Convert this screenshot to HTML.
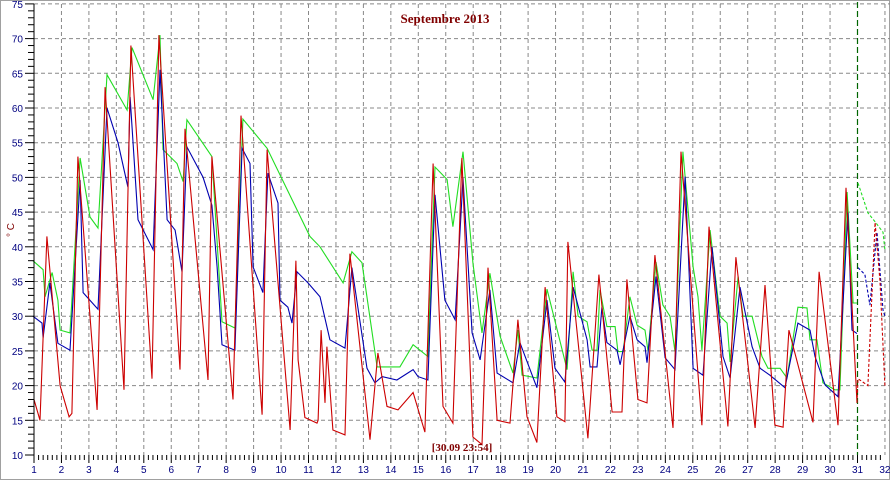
<!DOCTYPE html>
<html><head><meta charset="utf-8"><style>
html,body{margin:0;padding:0;background:#fff;}
svg{display:block;font-family:"Liberation Sans",sans-serif;}
</style></head><body>
<svg id="chart" width="890" height="480" viewBox="0 0 890 480" xmlns="http://www.w3.org/2000/svg">
<rect x="0.5" y="0.5" width="889" height="479" fill="#fff" stroke="#a0a0a0"/>
<g id="grid"></g>
<g id="series"></g>
<g id="axes"></g>
<text x="445" y="23" text-anchor="middle" font-family="Liberation Serif, serif" font-weight="bold" font-size="13" fill="#800000">Septembre 2013</text>
<text x="14" y="230" text-anchor="middle" font-size="10" fill="#800000" transform="rotate(-90 14 230)">° C</text>
<text x="462" y="451" text-anchor="middle" font-family="Liberation Serif, serif" font-weight="bold" font-size="11" fill="#800000">[30.09 23:54]</text>
</svg>
<script>
const yTicks=[10,15,20,25,30,35,40,45,50,55,60,65,70,75];
const xTicks=[1,2,3,4,5,6,7,8,9,10,11,12,13,14,15,16,17,18,19,20,21,22,23,24,25,26,27,28,29,30,31,32];
const redT=[1,1.22,1.47,1.95,2.28,2.38,2.6,3.3,3.59,4.28,4.53,5.3,5.55,6.32,6.5,7.34,7.48,8.25,8.54,9.31,9.49,10.33,10.54,10.62,10.87,11.31,11.35,11.46,11.6,11.67,11.89,12.33,12.51,13.24,13.53,13.86,14.26,14.81,15.24,15.54,15.9,16.26,16.59,16.99,17.32,17.54,17.87,18.34,18.63,18.96,19.32,19.62,20.05,20.34,20.45,21.18,21.58,22.06,22.42,22.6,23,23.33,23.62,24.28,24.57,25.33,25.59,26.28,26.57,27.27,27.63,27.99,28.29,28.5,29.38,29.6,30.29,30.58,30.98];
const redV=[18,15,41.5,20,15.5,16,53,16.5,63,19.4,69,21,70.5,22.3,57,20.8,53,18,58.9,15.8,54,13.6,38,23.7,15.4,14.6,15,28,17.5,25.6,13.6,12.9,39,12.2,24.7,17,16.5,19,13.3,52,17,14.6,52.8,12.6,11.5,37,15,14.6,29.5,15.5,11.8,34.2,15.5,14.8,40.7,12.4,36,16.2,16.2,35.3,18,17.5,38.8,13.9,53.7,14.3,42.9,14.1,38.5,13.9,34.5,14.3,14,28,14.7,36.4,14.3,48.5,17.5];
const redFT=[30.98,31.02,31.38,31.64,31.82,32];
const redFV=[17.5,21,20,43.5,35,20];
const greenT=[0.96,1.33,1.4,1.66,1.87,1.95,2.31,2.68,3.04,3.33,3.66,4.39,4.57,5.34,5.59,5.7,6.21,6.43,6.57,7.48,7.85,8.32,8.61,9.49,11.05,11.42,12.26,12.58,12.95,13.5,14.33,14.81,15.35,15.61,16.05,16.26,16.63,16.99,17.32,17.61,17.98,18.45,18.63,18.78,19.32,19.69,20.42,20.64,20.82,21.15,21.33,21.51,21.62,21.87,22.17,22.27,22.46,22.71,22.97,23.26,23.37,23.66,23.91,24.17,24.35,24.64,25.01,25.19,25.33,25.63,25.99,26.25,26.36,26.65,26.83,27.16,27.52,27.74,28.18,28.43,28.83,29.16,29.27,29.52,29.74,30.18,30.36,30.62,30.84,30.98];
const greenV=[38,36.7,32.8,36.3,32.3,28,27.6,52.8,44.3,42.7,64.8,59.7,68.7,61.2,70.5,54,52,49.4,58.3,53,29.2,28.3,58.4,54.2,41.5,40,34.8,39.3,37.7,22.7,22.7,25.9,24.2,51.5,49.7,42.9,53.7,37.7,27.6,36.2,27.1,21.8,28,21.5,21.1,33.9,22.3,36.4,30,29.2,25.1,25.1,33.8,28.5,28.5,24.9,24.9,32.8,28.7,28,24.9,37.8,31.6,30,24.9,53.7,37.1,32.8,25.1,42.4,30,29,23.4,35.7,30,30,24.2,22.5,22.5,21.1,31.3,31.2,26.6,26.6,20.4,19.4,19.4,47.9,31.9,31.9];
const greenFT=[31.02,31.38,31.64,31.93,32];
const greenFV=[49.2,44.9,43.6,42.1,39.6];
const blueT=[0.96,1.29,1.33,1.58,1.87,2.31,2.68,2.79,3.33,3.66,4.06,4.42,4.5,4.79,5.34,5.59,5.85,6.14,6.39,6.57,7.16,7.48,7.67,7.85,8.32,8.58,8.87,8.98,9.34,9.52,9.89,9.96,10.25,10.4,10.58,10.98,11.42,11.78,12.33,12.58,13.13,13.42,13.68,14.22,14.81,14.99,15.35,15.61,15.97,16.34,16.63,16.96,17.25,17.61,17.87,18.45,18.7,19.32,19.69,19.98,20.34,20.64,21.15,21.26,21.51,21.69,21.87,22.24,22.35,22.71,22.97,23.26,23.33,23.66,23.99,24.35,24.72,25.01,25.37,25.7,26.1,26.36,26.72,27.16,27.45,27.81,28.36,28.83,29.27,29.45,29.82,30.29,30.65,30.8,30.98];
const blueV=[30,29,26.9,34.8,26.1,25.1,49.6,33.4,31,60,55,48.6,61.6,43.9,39.6,65.5,43.9,42.4,36.4,54.4,50,46,37.1,25.9,25.1,54.2,52,37.1,33.4,50.6,46.3,32.3,31.3,29,36.4,34.8,32.8,26.6,25.4,37,22.5,20.4,21.3,20.8,22.3,21.3,20.8,47.5,32.3,29.5,49.9,27.6,23.7,33.8,21.8,20.4,26.2,19.7,32.3,22.5,20.5,34.2,26.6,22.7,22.7,31.3,26.2,25.1,23,30,26.6,25.6,23.3,35.7,24,22.3,50.1,22.5,21.5,40,24.2,21.1,34.2,25.6,22.5,21.5,19.7,29,28,24.2,20.1,18.4,44.9,28,27.5];
const blueFT=[31.02,31.27,31.45,31.71,31.93,32];
const blueFV=[37,36,31.6,42.1,30.9,30];

const NS="http://www.w3.org/2000/svg";
const X0=34,DX=27.45,Y0=455,DY=6.94;
function xs(d){return X0+(d-1)*DX;}
function ys(v){return Y0-(v-10)*DY;}
function mk(tag,attrs,parent){const e=document.createElementNS(NS,tag);for(const k in attrs)e.setAttribute(k,attrs[k]);parent.appendChild(e);return e;}
const grid=document.getElementById('grid'),axes=document.getElementById('axes'),ser=document.getElementById('series');
yTicks.forEach(v=>{
  if(v>10){const l=mk('line',{x1:X0,x2:890,y1:ys(v),y2:ys(v),stroke:'#888','stroke-dasharray':'4,3','stroke-width':1},grid);
  
  }
  const t=mk('text',{x:23,y:ys(v)+4,'text-anchor':'end','font-size':10,fill:'#000080'},axes);
  t.textContent=v;
  
  
});
for(let v=10;v<=75;v++){
  const major=v%5===0;
  const tk=mk('line',{x1:major?25:28,x2:X0,y1:ys(v),y2:ys(v),stroke:'#000','stroke-width':1},axes);
  
  
}
xTicks.forEach(d=>{
  const x=xs(d);
  if(d>1&&d!==31){const l=mk('line',{x1:x,x2:x,y1:4,y2:Y0,stroke:'#888','stroke-dasharray':'4,3','stroke-width':1},grid);
  
  }
  const t=mk('text',{x:x,y:473,'text-anchor':'middle','font-size':10,fill:'#000080'},axes);
  t.textContent=d;
  
  
  for(let k=0;k<6&&d<32;k++){
    const tx=x+k*DX/6;
    const tk=mk('line',{x1:tx,x2:tx,y1:Y0,y2:Y0+(k===0?8:5),stroke:'#000','stroke-width':1},axes);
    
    
  }
});
const yax=mk('line',{x1:X0,x2:X0,y1:4,y2:Y0,stroke:'#000'},axes);


const now=mk('line',{x1:xs(31),x2:xs(31),y1:2,y2:Y0,stroke:'#006400','stroke-dasharray':'6,3','stroke-width':1.2},grid);


function poly(T,V,color,dashed,name){
  const pts=T.map((t,i)=>xs(t).toFixed(1)+','+ys(V[i]).toFixed(1)).join(' ');
  const p=mk('polyline',{points:pts,fill:'none',stroke:color,'stroke-width':1.1},ser);
  if(dashed)p.setAttribute('stroke-dasharray','3,2');
  
  
}
poly(greenT,greenV,'#22dd22',false,'green-series-line');
poly(blueT,blueV,'#0000b0',false,'blue-series-line');
poly(redT,redV,'#cc0000',false,'red-series-line');
poly(greenFT,greenFV,'#22dd22',true,'green-forecast-line');
poly(blueFT,blueFV,'#0000b0',true,'blue-forecast-line');
poly(redFT,redFV,'#cc0000',true,'red-forecast-line');
</script>
</body></html>
